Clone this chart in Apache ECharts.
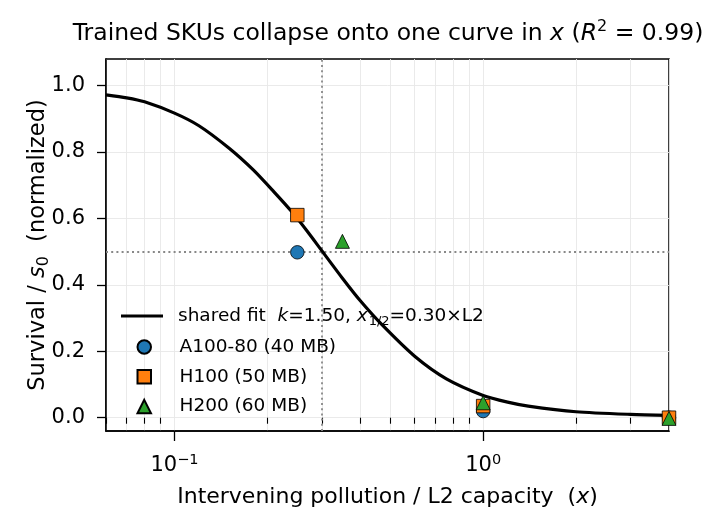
<!DOCTYPE html>
<html>
<head>
<meta charset="utf-8">
<script src="https://cdn.jsdelivr.net/npm/echarts@6/dist/echarts.min.js"></script>
<style>html,body{margin:0;padding:0;background:#fff}#c{width:723px;height:530px}</style>
</head>
<body>
<div id="c"></div>
<script>
// ---- data ----
const fitX = [0.06, 0.07, 0.08, 0.1, 0.12, 0.15, 0.18, 0.21, 0.24, 0.27, 0.30, 0.35, 0.40, 0.47, 0.60, 0.76, 1.0, 1.2, 1.4, 2.0, 3.0, 4.0];
const fitY = [0.972, 0.963, 0.951, 0.917, 0.879, 0.812, 0.746, 0.680, 0.620, 0.560, 0.503, 0.420, 0.352, 0.280, 0.185, 0.117, 0.067, 0.047, 0.035, 0.018, 0.010, 0.007];
const a100X = [0.25, 1.0, 4.0];
const a100Y = [0.498, 0.020, 0.0];
const h100X = [0.25, 1.0, 4.0];
const h100Y = [0.610, 0.035, 0.0];
const h200X = [0.35, 1.0, 4.0];
const h200Y = [0.531, 0.045, -0.002];
const seriesNames = ['shared fit', 'A100-80 (40 MB)', 'H100 (50 MB)', 'H200 (60 MB)'];
const refX = 0.3;
const refY = 0.5;
const xMajorTicks = [0.1, 1];
const xMinorTicks = [0.06, 0.07, 0.08, 0.09, 0.2, 0.3, 0.4, 0.5, 0.6, 0.7, 0.8, 0.9, 2, 3, 4];
const yTicks = [0, 0.2, 0.4, 0.6, 0.8, 1.0];

const FF = 'DejaVu Sans';
const zip = (xs, ys) => xs.map((x, i) => [x, ys[i]]);

const chart = echarts.init(document.getElementById('c'), null, {renderer: 'canvas'});
const LFS = 18.5;
const legendRich = {
  g: {width: 10},
  g2: {width: 23.5},
  t: {fontFamily: FF, fontSize: LFS, color: '#000'},
  i: {fontFamily: FF, fontSize: LFS, fontStyle: 'italic', color: '#000'},
  sub: {fontFamily: FF, fontSize: 13, color: '#000', verticalAlign: 'bottom', lineHeight: 13, padding: [0, 0, 0, 1]}
};
const legendText = {
  'shared fit': '{g|}{t|shared fit  }{i|k}{t|=1.50, }{i|x}{sub|1/2}{t|=0.30×L2}',
  'A100-80 (40 MB)': '{g2|}{t|A100-80 (40 MB)}',
  'H100 (50 MB)': '{g2|}{t|H100 (50 MB)}',
  'H200 (60 MB)': '{g2|}{t|H200 (60 MB)}'
};
const legendTextStyle = {fontFamily: FF, fontSize: LFS, color: '#000', lineHeight: 24, rich: legendRich};

const option = {
  animation: false,
  backgroundColor: '#fff',
  title: {
    text: 'Trained SKUs collapse onto one curve in {i|x} ({i|R}{sup|2} = 0.99)',
    left: 383, top: 14, textAlign: 'center',
    textStyle: {
      fontFamily: FF, fontSize: 23.5, fontWeight: 'normal', color: '#000', lineHeight: 30,
      rich: {
        i: {fontFamily: FF, fontSize: 23.5, fontStyle: 'italic', color: '#000'},
        sup: {fontFamily: FF, fontSize: 16, color: '#000', verticalAlign: 'top', lineHeight: 16}
      }
    }
  },
  grid: {left: 106, right: 54, top: 59, bottom: 99, show: true, borderColor: '#000', borderWidth: 1.5, backgroundColor: 'transparent'},
  legend: [{
    orient: 'vertical', left: 121, top: 304, padding: 0,
    itemWidth: 42, itemHeight: 3, itemGap: 6,
    data: [{name: seriesNames[0], icon: 'rect'}],
    textStyle: legendTextStyle,
    formatter: name => legendText[name]
  }, {
    orient: 'vertical', left: 136.5, top: 335, padding: 0,
    itemWidth: 13.5, itemHeight: 13.5, itemGap: 5.8,
    data: seriesNames.slice(1),
    textStyle: legendTextStyle,
    formatter: name => legendText[name]
  }],
  xAxis: [{
    type: 'log', logBase: 10, min: 0.06, max: 4, gridIndex: 0,
    name: 'Intervening pollution / L2 capacity  ({i|x})',
    nameLocation: 'middle', nameGap: 55, nameMoveOverlap: false,
    nameTextStyle: {fontFamily: FF, fontSize: 22, color: '#000',
      rich: {i: {fontFamily: FF, fontSize: 22, fontStyle: 'italic', color: '#000'}}},
    axisLine: {show: true, onZero: false, lineStyle: {color: '#000', width: 1.5}},
    axisTick: {show: true, inside: false, length: 10, customValues: xMajorTicks, lineStyle: {color: '#000', width: 1.3}},
    axisLabel: {
      show: true, margin: 22, customValues: xMajorTicks,
      fontFamily: FF, fontSize: 21, color: '#000', lineHeight: 26,
      formatter: v => {
        const e = Math.round(Math.log10(v));
        return '10{sup|' + (e < 0 ? '−' + Math.abs(e) : e) + '}';
      },
      rich: {sup: {fontFamily: FF, fontSize: 14.5, color: '#000', verticalAlign: 'top', lineHeight: 14}}
    },
    splitLine: {show: true, lineStyle: {color: '#e8e8e8', width: 0.9}}
  }, {
    type: 'log', logBase: 10, min: 0.06, max: 4, gridIndex: 0, position: 'bottom',
    axisLine: {show: false},
    axisTick: {show: true, inside: false, length: 6, customValues: xMinorTicks, lineStyle: {color: '#000', width: 1.1}},
    axisLabel: {show: false},
    splitLine: {show: true, lineStyle: {color: '#e8e8e8', width: 0.9}}
  }],
  yAxis: {
    type: 'value', min: -0.04, max: 1.08,
    name: 'Survival / {i|s}{sub|0}  (normalized)',
    nameLocation: 'middle', nameGap: 54, nameRotate: 90, nameMoveOverlap: false,
    nameTextStyle: {fontFamily: FF, fontSize: 22.5, color: '#000', lineHeight: 28,
      rich: {
        i: {fontFamily: FF, fontSize: 22.5, fontStyle: 'italic', color: '#000'},
        sub: {fontFamily: FF, fontSize: 16, color: '#000', verticalAlign: 'bottom', lineHeight: 16}
      }},
    axisLine: {show: true, onZero: false, lineStyle: {color: '#000', width: 1.5}},
    axisTick: {show: true, inside: false, length: 9, customValues: yTicks, lineStyle: {color: '#000', width: 1.3}},
    axisLabel: {show: true, margin: 21, customValues: yTicks, fontFamily: FF, fontSize: 21, color: '#000',
      formatter: v => v.toFixed(1)},
    splitLine: {show: true, lineStyle: {color: '#e8e8e8', width: 0.9}}
  },
  series: [{
    name: seriesNames[0], type: 'line', xAxisIndex: 0, data: zip(fitX, fitY),
    showSymbol: false, symbol: 'none', smooth: 0.25, z: 2,
    lineStyle: {color: '#000', width: 3.2}, itemStyle: {color: '#000'},
    markLine: {
      silent: true, symbol: ['none', 'none'], label: {show: false},
      lineStyle: {color: '#888', width: 1.8, type: [2, 3.2]},
      emphasis: {disabled: true},
      data: [{xAxis: refX}, {yAxis: refY}], z: 1
    }
  }, {
    name: seriesNames[1], type: 'scatter', xAxisIndex: 0, data: zip(a100X, a100Y),
    symbol: 'circle', symbolSize: 13.5, z: 3,
    itemStyle: {color: '#1f77b4', borderColor: '#000', borderWidth: 0.8, opacity: 1}
  }, {
    name: seriesNames[2], type: 'scatter', xAxisIndex: 0, data: zip(h100X, h100Y),
    symbol: 'rect', symbolSize: 13.5, z: 4,
    itemStyle: {color: '#ff7f0e', borderColor: '#000', borderWidth: 0.8, opacity: 1}
  }, {
    name: seriesNames[3], type: 'scatter', xAxisIndex: 0, data: zip(h200X, h200Y),
    symbol: 'triangle', symbolSize: 14, z: 5,
    itemStyle: {color: '#2ca02c', borderColor: '#000', borderWidth: 0.8, opacity: 1}
  }]
};
chart.setOption(option);
</script>
</body>
</html>
